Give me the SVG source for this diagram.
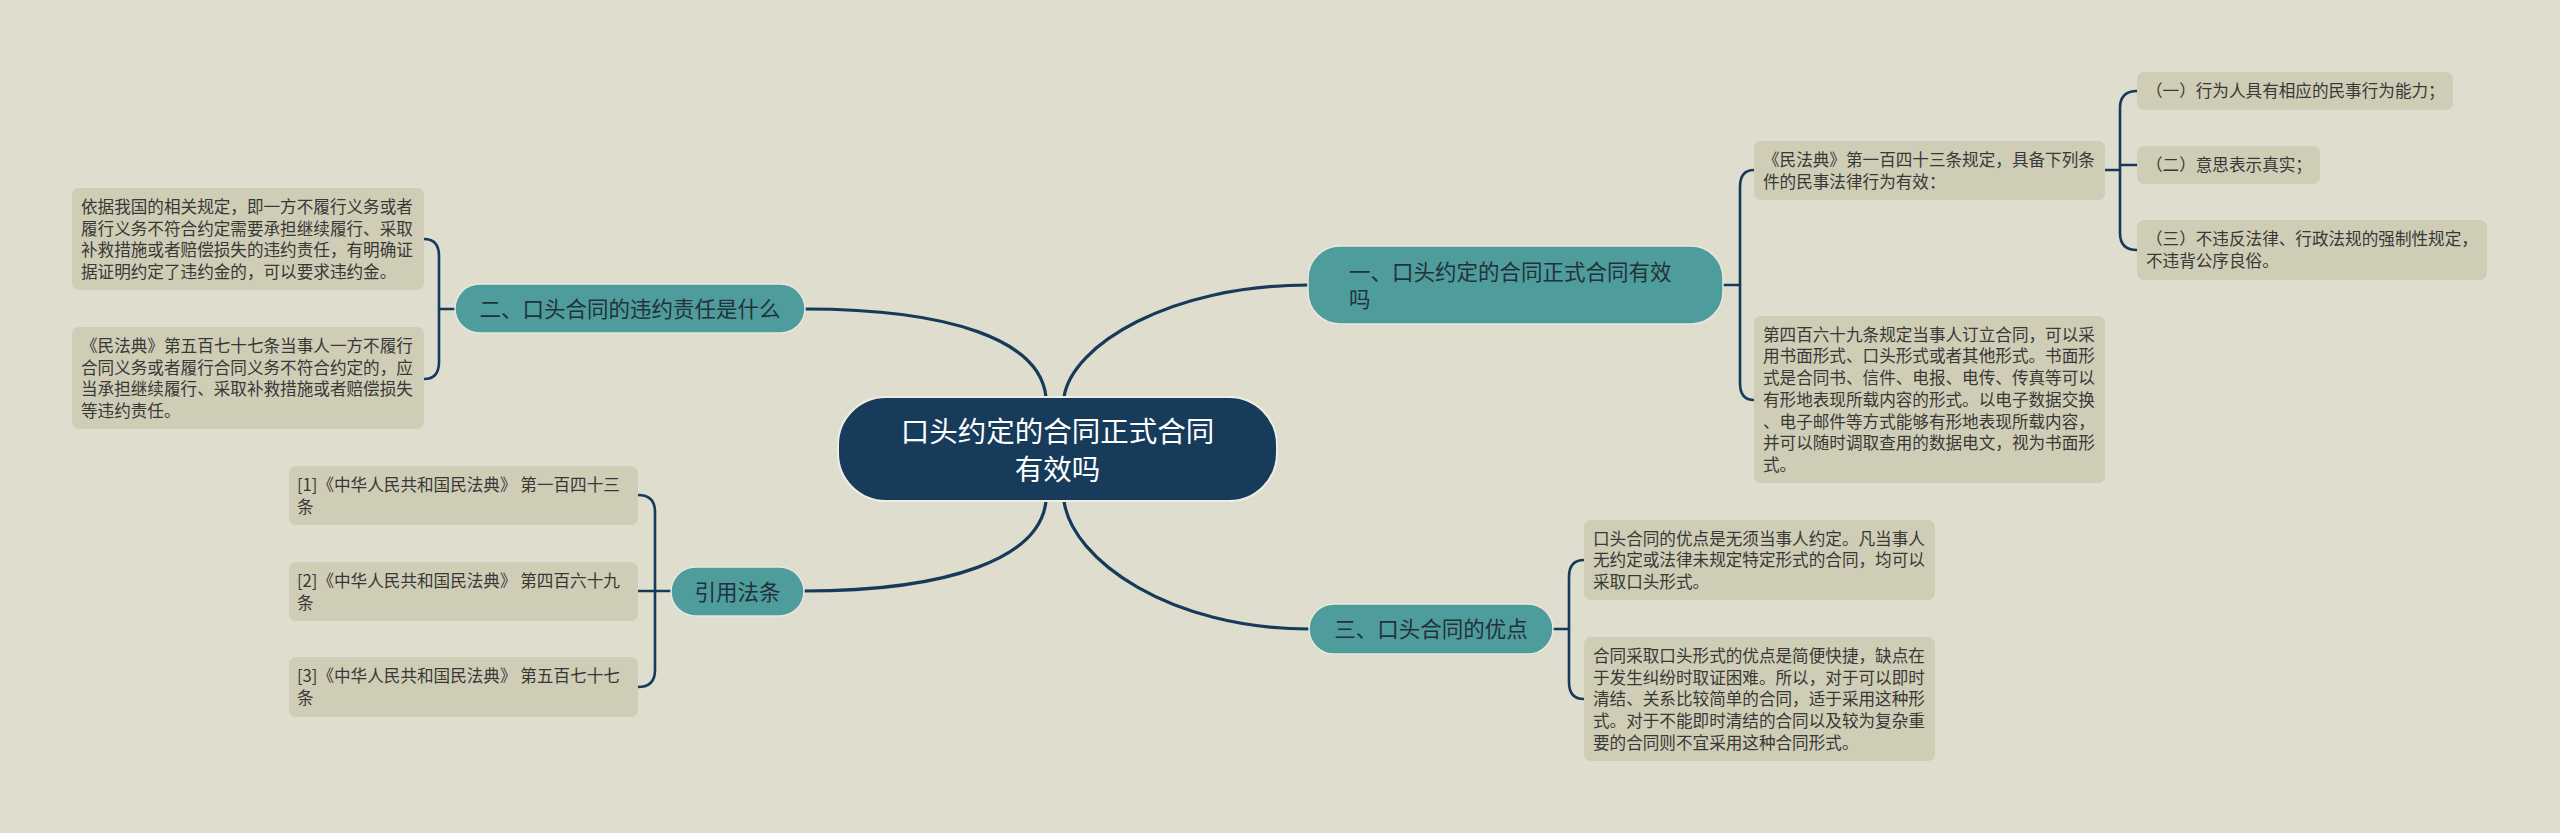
<svg xmlns="http://www.w3.org/2000/svg" width="2560" height="833" viewBox="0 0 2560 833">
<style>
text{font-family:"Noto Sans CJK SC","Noto Sans",sans-serif}
.bg{fill:#dfddce}
.leaf rect{fill:#cfcdb6}
.leaf text{font-size:16.6px;fill:#383836}
.topic rect{fill:#4e9c9c;stroke:#e9e8dc;stroke-width:1.5}
.topic text{font-size:21.5px;fill:#223238}
.root rect{fill:#163b5b;stroke:#eeeee4;stroke-width:2}
.root text{font-size:28.5px;fill:#ffffff;text-anchor:middle}
.main{fill:none;stroke:#163a59;stroke-width:3.2;stroke-linecap:round}
.sub{fill:none;stroke:#163a59;stroke-width:2.6;stroke-linecap:round}
.mid{text-anchor:middle}
</style>
<rect class="bg" x="0" y="0" width="2560" height="833"/>

<g id="connectors">
  <path class="main" d="M805,309 C950,309 1040,340 1046,397"/>
  <path class="main" d="M1064,397 C1072,345 1170,285 1308,285"/>
  <path class="main" d="M1046,501 C1040,558 950,591 804,591"/>
  <path class="main" d="M1064,501 C1072,560 1170,629 1309,629"/>
  <path class="sub" d="M455,309 H439"/>
  <path class="sub" d="M424,239 Q439,239 439,256 V362 Q439,379 424,379"/>
  <path class="sub" d="M671,591 H638"/>
  <path class="sub" d="M638,495 Q655,495 655,512 V670 Q655,687 638,687"/>
  <path class="sub" d="M1723,285 H1740"/>
  <path class="sub" d="M1754,170 Q1740,170 1740,187 V383 Q1740,400 1754,400"/>
  <path class="sub" d="M2104,170 H2120"/>
  <path class="sub" d="M2120,165 H2137"/>
  <path class="sub" d="M2137,91 Q2120,91 2120,108 V233 Q2120,250 2137,250"/>
  <path class="sub" d="M1553,629 H1569"/>
  <path class="sub" d="M1584,560 Q1569,560 1569,577 V682 Q1569,699 1584,699"/>
</g>

<g id="root" class="root">
  <rect x="838" y="397" width="439" height="104" rx="48"/>
  <text x="1057.5" y="441.8">口头约定的合同正式合同</text>
  <text x="1057.5" y="479.8">有效吗</text>
</g>

<g id="topic1" class="topic">
  <rect x="1308" y="246" width="415" height="78" rx="32"/>
  <text x="1349" y="279.7">一、口头约定的合同正式合同有效</text>
  <text x="1349" y="306.7">吗</text>
</g>

<g id="topic2" class="topic">
  <rect x="455" y="284" width="350" height="49" rx="24.5"/>
  <text class="mid" x="630" y="316.7">二、口头合同的违约责任是什么</text>
</g>

<g id="topic3" class="topic">
  <rect x="671" y="567" width="133" height="49" rx="24.5"/>
  <text class="mid" x="737.5" y="599.7">引用法条</text>
</g>

<g id="topic4" class="topic">
  <rect x="1309" y="604" width="244" height="50" rx="25"/>
  <text class="mid" x="1431" y="637.2">三、口头合同的优点</text>
</g>

<g id="leaf-l1" class="leaf">
  <rect x="72" y="188" width="352" height="102" rx="7"/>
  <text x="81" y="212.8">依据我国的相关规定，即一方不履行义务或者</text>
  <text x="81" y="234.5">履行义务不符合约定需要承担继续履行、采取</text>
  <text x="81" y="256.1">补救措施或者赔偿损失的违约责任，有明确证</text>
  <text x="81" y="277.8">据证明约定了违约金的，可以要求违约金。</text>
</g>

<g id="leaf-l2" class="leaf">
  <rect x="72" y="327" width="352" height="102" rx="7"/>
  <text x="81" y="351.8">《民法典》第五百七十七条当事人一方不履行</text>
  <text x="81" y="373.5">合同义务或者履行合同义务不符合约定的，应</text>
  <text x="81" y="395.1">当承担继续履行、采取补救措施或者赔偿损失</text>
  <text x="81" y="416.8">等违约责任。</text>
</g>

<g id="leaf-c1" class="leaf">
  <rect x="289" y="466" width="349" height="59" rx="7"/>
  <text x="297" y="490.9">[1]《中华人民共和国民法典》 第一百四十三</text>
  <text x="297" y="512.7">条</text>
</g>

<g id="leaf-c2" class="leaf">
  <rect x="289" y="562" width="349" height="59" rx="7"/>
  <text x="297" y="586.9">[2]《中华人民共和国民法典》 第四百六十九</text>
  <text x="297" y="608.7">条</text>
</g>

<g id="leaf-c3" class="leaf">
  <rect x="289" y="657" width="349" height="60" rx="7"/>
  <text x="297" y="682.3">[3]《中华人民共和国民法典》 第五百七十七</text>
  <text x="297" y="704.3">条</text>
</g>

<g id="leaf-r1" class="leaf">
  <rect x="1754" y="141" width="351" height="59" rx="7"/>
  <text x="1763" y="165.9">《民法典》第一百四十三条规定，具备下列条</text>
  <text x="1763" y="187.7">件的民事法律行为有效：</text>
</g>

<g id="leaf-r1a" class="leaf">
  <rect x="2137" y="72" width="316" height="38" rx="7"/>
  <text x="2146" y="97.3">（一）行为人具有相应的民事行为能力；</text>
</g>

<g id="leaf-r1b" class="leaf">
  <rect x="2137" y="146" width="183" height="38" rx="7"/>
  <text x="2146" y="171.3">（二）意思表示真实；</text>
</g>

<g id="leaf-r1c" class="leaf">
  <rect x="2137" y="220" width="350" height="60" rx="7"/>
  <text x="2146" y="245.3">（三）不违反法律、行政法规的强制性规定，</text>
  <text x="2146" y="267.3">不违背公序良俗。</text>
</g>

<g id="leaf-r2" class="leaf">
  <rect x="1754" y="316" width="351" height="167" rx="7"/>
  <text x="1763" y="340.7">第四百六十九条规定当事人订立合同，可以采</text>
  <text x="1763" y="362.4">用书面形式、口头形式或者其他形式。书面形</text>
  <text x="1763" y="384.1">式是合同书、信件、电报、电传、传真等可以</text>
  <text x="1763" y="405.8">有形地表现所载内容的形式。以电子数据交换</text>
  <text x="1763" y="427.5">、电子邮件等方式能够有形地表现所载内容，</text>
  <text x="1763" y="449.2">并可以随时调取查用的数据电文，视为书面形</text>
  <text x="1763" y="470.9">式。</text>
</g>

<g id="leaf-r3" class="leaf">
  <rect x="1584" y="520" width="351" height="80" rx="7"/>
  <text x="1593" y="544.6">口头合同的优点是无须当事人约定。凡当事人</text>
  <text x="1593" y="566.3">无约定或法律未规定特定形式的合同，均可以</text>
  <text x="1593" y="588">采取口头形式。</text>
</g>

<g id="leaf-r4" class="leaf">
  <rect x="1584" y="637" width="351" height="124" rx="7"/>
  <text x="1593" y="661.9">合同采取口头形式的优点是简便快捷，缺点在</text>
  <text x="1593" y="683.6">于发生纠纷时取证困难。所以，对于可以即时</text>
  <text x="1593" y="705.3">清结、关系比较简单的合同，适于采用这种形</text>
  <text x="1593" y="727">式。对于不能即时清结的合同以及较为复杂重</text>
  <text x="1593" y="748.7">要的合同则不宜采用这种合同形式。</text>
</g>
</svg>
